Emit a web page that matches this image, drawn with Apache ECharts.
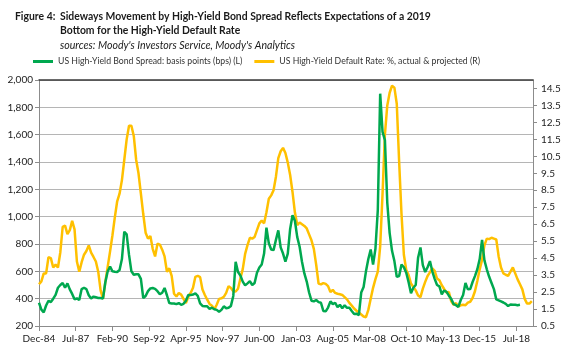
<!DOCTYPE html>
<html>
<head>
<meta charset="utf-8">
<script src="https://cdn.jsdelivr.net/npm/echarts@6/dist/echarts.min.js"></script>
<style>
  html, body { margin: 0; padding: 0; background: #fff; }
  #chart { width: 570px; height: 351px; }
</style>
</head>
<body>
<div id="chart"></div>
<script>
// monthly categories, Dec-84 .. Sep-19
const monthNames = ["Jan", "Feb", "Mar", "Apr", "May", "Jun", "Jul", "Aug", "Sep", "Oct", "Nov", "Dec"];
const categories = [];
for (let i = 0; i < 418; i++) {
  const t = 11 + i;
  const yy = (1984 + Math.floor(t / 12)) % 100;
  categories.push(monthNames[t % 12] + "-" + String(yy).padStart(2, "0"));
}

// values every 2nd month, starting Dec-84
const STEP = 2;
const spreadBps = [
  370, 320, 300, 350, 385, 375, 400, 428, 480, 500,
  515, 480, 512, 468, 435, 395, 402, 390, 470, 480,
  470, 425, 402, 415, 410, 405, 405, 400, 520, 600,
  635, 600, 597, 595, 610, 690, 890, 870, 720, 600,
  575, 578, 578, 545, 405, 420, 455, 475, 478, 472,
  455, 432, 443, 478, 425, 368, 365, 365, 360, 368,
  355, 362, 385, 427, 426, 430, 438, 420, 365, 347,
  344, 344, 326, 334, 323, 318, 304, 318, 344, 330,
  333, 347, 420, 670, 595, 570, 525, 497, 512, 528,
  500, 515, 590, 628, 650, 730, 920, 805, 760, 755,
  830, 900, 775, 730, 670, 730, 910, 1010, 970, 850,
  780, 670, 585, 525, 445, 385, 380, 390, 375, 370,
  310, 307, 335, 380, 360, 370, 338, 355, 330, 352,
  333, 333, 310, 288, 290, 280, 445, 485, 600, 690,
  760, 650, 765, 1050, 1900, 1620, 1560, 1100, 880, 750,
  675, 560, 565, 650, 630, 590, 520, 440, 480, 500,
  700, 775, 645, 595, 630, 675, 600, 545, 500, 490,
  432, 460, 450, 422, 398, 360, 352, 340, 390, 427,
  515, 468, 470, 522, 565, 615, 690, 830, 680, 615,
  560, 515, 470, 395, 388, 380, 372, 362, 346, 358,
  355, 355, 352, 355
];
const defaultRate = [
  2.96, 3.13, 3.6, 3.6, 4.55, 4.5, 3.95, 4.12, 3.95, 4.85,
  6.35, 6.42, 5.92, 6.15, 6.7, 6.2, 4.3, 3.7, 4.26, 4.7,
  4.92, 5.25, 4.82, 4.57, 4.3, 3.7, 2.6, 2.1, 3.1, 4.0,
  4.9, 5.85, 6.9, 7.85, 8.3, 9.1, 10.3, 11.5, 12.3, 12.3,
  11.7, 10.3, 9.5, 8.3, 7.1, 6.0, 5.65, 5.8, 5.05, 4.6,
  5.35, 5.3, 5.0, 4.6, 3.7, 3.9, 3.45, 2.4, 2.24, 2.44,
  2.35, 2.1, 1.85, 2.2, 2.45, 2.75, 3.4, 3.46, 3.38, 2.65,
  2.33, 2.05, 1.8, 1.7, 1.48, 1.75, 2.1, 2.13, 2.22, 2.45,
  2.85, 2.74, 2.55, 2.53, 2.7, 3.3, 3.85, 4.75, 5.27, 5.7,
  5.65, 5.75, 6.15, 6.55, 6.72, 6.55, 7.2, 8.0, 8.2, 8.5,
  9.3, 10.4, 10.8, 11.0, 10.7, 10.13, 9.4, 8.4, 7.2, 6.45,
  6.6, 6.5, 6.4, 6.25, 5.9, 5.55, 5.05, 4.1, 3.0, 2.95,
  3.03, 2.98, 2.85, 2.5, 2.63, 2.45, 2.4, 2.37, 2.33, 2.2,
  2.07, 1.86, 1.7, 1.53, 1.4, 1.3, 1.18, 1.06, 1.02, 1.45,
  2.1, 2.75, 3.26, 3.7, 5.2, 8.3, 11.8, 13.5, 14.25, 14.66,
  14.55, 13.6, 10.2, 7.1, 4.7, 3.8, 3.5, 3.0, 2.8, 2.6,
  2.3, 2.2, 2.7, 3.1, 3.45, 3.66, 3.9, 3.75, 3.3, 3.2,
  2.9, 2.68, 2.47, 2.5, 1.95, 1.75, 1.85, 1.65, 1.72, 1.75,
  1.72, 1.88, 1.93, 2.15, 2.55, 3.15, 3.84, 4.4, 5.25, 5.65,
  5.62, 5.7, 5.65, 5.6, 4.6, 3.95, 3.6, 3.52, 3.46, 3.7,
  3.95, 3.6, 3.25, 2.96, 2.66, 2.1, 1.82, 1.82, 1.96
];
const rightTicks = [0.5, 1.5, 2.5, 3.5, 4.5, 5.5, 6.5, 7.5, 8.5, 9.5, 10.5, 11.5, 12.5, 13.5, 14.5];

const font = "Lato, 'Open Sans', sans-serif";

var myChart = echarts.init(document.getElementById("chart"));
var option = {
  animation: false,
  title: [
    {
      text: "Figure 4:",
      left: 10,
      top: 5,
      textStyle: { fontFamily: font, fontSize: 10.4, fontWeight: "bold", color: "#1a1a1a", lineHeight: 14 },
    },
    {
      text: "Sideways Movement by High-Yield Bond Spread Reflects Expectations of a 2019\nBottom for the High-Yield Default Rate",
      subtext: "sources: Moody's Investors Service, Moody's Analytics",
      left: 55,
      top: 5,
      itemGap: 2,
      textStyle: { fontFamily: font, fontSize: 10.4, fontWeight: "bold", color: "#1a1a1a", lineHeight: 14 },
      subtextStyle: { fontFamily: font, fontSize: 10.6, fontStyle: "italic", color: "#1a1a1a" },
    },
  ],
  legend: {
    left: 33,
    top: 57,
    padding: 0,
    itemWidth: 20,
    itemHeight: 3,
    itemGap: 12,
    icon: "rect",
    textStyle: { fontFamily: font, fontSize: 8.7, color: "#333" },
    data: [
      "US High-Yield Bond Spread: basis points (bps) (L)",
      "US High-Yield Default Rate: %, actual & projected (R)",
    ],
  },
  grid: { left: 39, right: 37, top: 80, bottom: 25 },
  xAxis: [
    {
      type: "category",
      data: categories,
      boundaryGap: false,
      axisLine: { lineStyle: { color: "#8c8c8c" } },
      axisTick: { interval: 30, length: 5, lineStyle: { color: "#8c8c8c" } },
      axisLabel: { interval: 30, margin: 8, fontFamily: font, fontSize: 10, color: "#222" },
      splitLine: { show: false },
    },
    {
      // dark top border of the plot
      type: "category",
      data: categories,
      position: "top",
      boundaryGap: false,
      axisLine: { lineStyle: { color: "#3a3a3a", width: 1.5 } },
      axisTick: { show: false },
      axisLabel: { show: false },
    },
  ],
  yAxis: [
    {
      type: "value",
      min: 200,
      max: 2000,
      interval: 200,
      axisLine: { show: true, lineStyle: { color: "#8c8c8c" } },
      axisTick: { show: true, length: 4, lineStyle: { color: "#8c8c8c" } },
      axisLabel: {
        margin: 6,
        fontFamily: font,
        fontSize: 10,
        color: "#222",
        formatter: (v) => v.toLocaleString("en-US"),
      },
      splitLine: { lineStyle: { color: "#b5b5b5" } },
    },
    {
      type: "value",
      min: 0.5,
      max: 15,
      position: "right",
      axisLine: { show: true, lineStyle: { color: "#8c8c8c" } },
      axisTick: { show: true, length: 4, customValues: rightTicks, lineStyle: { color: "#8c8c8c" } },
      axisLabel: {
        margin: 8,
        customValues: rightTicks,
        fontFamily: font,
        fontSize: 10,
        color: "#222",
        formatter: (v) => v.toFixed(1),
      },
      splitLine: { show: false },
    },
  ],
  series: [
    {
      name: "US High-Yield Bond Spread: basis points (bps) (L)",
      type: "line",
      yAxisIndex: 0,
      showSymbol: false,
      color: "#00a84f",
      lineStyle: { width: 2.5, color: "#00a84f" },
      data: spreadBps.map((v, i) => [i * STEP, v]),
      z: 3,
    },
    {
      name: "US High-Yield Default Rate: %, actual & projected (R)",
      type: "line",
      yAxisIndex: 1,
      showSymbol: false,
      color: "#ffc000",
      lineStyle: { width: 2.5, color: "#ffc000" },
      data: defaultRate.map((v, i) => [i * STEP, v]),
      z: 2,
    },
  ],
};
option && myChart.setOption(option);
</script>
</body>
</html>
